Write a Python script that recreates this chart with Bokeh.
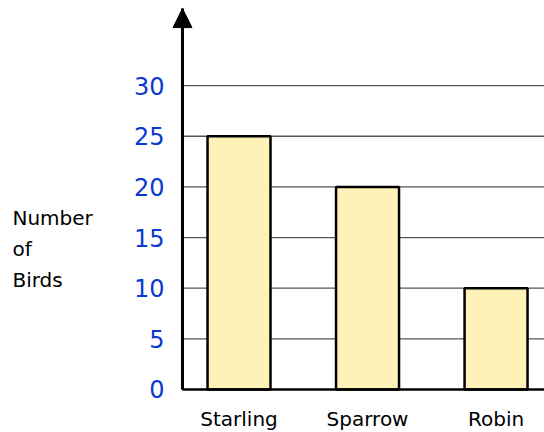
from bokeh.plotting import figure
from bokeh.models import Range1d, FixedTicker, Arrow, NormalHead, Label
from bokeh.embed import file_html
from bokeh.resources import INLINE

categories = ["Starling", "Sparrow", "Robin"]
counts = [25, 20, 10]
y_ticks = [0, 5, 10, 15, 20, 25, 30]
y_label_lines = ["Number", "of", "Birds"]

xs = [i + 1 for i in range(len(categories))]
x_axis_pos = 0.56
x_start, x_end = -0.856, 3.377
y_start, y_end = -4.245, 38.4
arrow_tip = 37.6

p = figure(width=544, height=432, output_backend="svg", toolbar_location=None,
           x_range=Range1d(x_start, x_end), y_range=Range1d(y_start, y_end),
           min_border_left=0, min_border_right=0, min_border_top=0, min_border_bottom=0)
p.outline_line_color = None
p.background_fill_color = "white"
p.border_fill_color = "white"

p.xgrid.grid_line_color = None
p.ygrid.grid_line_color = None

# horizontal grid lines starting at the vertical axis
grid_y = [t for t in y_ticks if t > 0]
p.segment(x0=[x_axis_pos] * len(grid_y), x1=[x_end] * len(grid_y), y0=grid_y, y1=grid_y,
          line_color="#555555", line_width=1.3)

p.vbar(x=xs, top=counts, width=0.49, bottom=0, fill_color="#FFF2B8",
       line_color="black", line_width=2.5)

p.yaxis.fixed_location = x_axis_pos
p.yaxis.bounds = (0, arrow_tip)
p.yaxis.ticker = FixedTicker(ticks=y_ticks)
p.yaxis.axis_line_width = 3
p.yaxis.axis_line_color = "black"
p.yaxis.major_tick_line_color = None
p.yaxis.minor_tick_line_color = None
p.yaxis.major_label_text_color = "#0a3ad0"
p.yaxis.major_label_text_font = "DejaVu Sans"
p.yaxis.major_label_text_font_size = "24px"
p.yaxis.major_label_standoff = 12

p.xaxis.fixed_location = 0
p.xaxis.bounds = (x_axis_pos, x_end)
p.xaxis.ticker = FixedTicker(ticks=xs)
p.xaxis.major_label_overrides = {x: c for x, c in zip(xs, categories)}
p.xaxis.axis_line_width = 2.5
p.xaxis.axis_line_color = "black"
p.xaxis.major_tick_line_color = None
p.xaxis.minor_tick_line_color = None
p.xaxis.major_label_text_color = "black"
p.xaxis.major_label_text_font = "DejaVu Sans"
p.xaxis.major_label_text_font_size = "20px"
p.xaxis.major_label_standoff = 12

p.add_layout(Arrow(end=NormalHead(size=19, fill_color="black", line_color="black"),
                   x_start=x_axis_pos, y_start=0, x_end=x_axis_pos, y_end=arrow_tip,
                   line_width=3, line_color="black"))

for i, t in enumerate(y_label_lines):
    p.add_layout(Label(x=x_axis_pos, y=16.9 - 3.05 * i, x_offset=-170, text=t,
                       text_font="DejaVu Sans", text_font_size="20px",
                       text_color="black", text_baseline="middle", text_align="left"))

open("out.html", "w").write(file_html(p, INLINE))
